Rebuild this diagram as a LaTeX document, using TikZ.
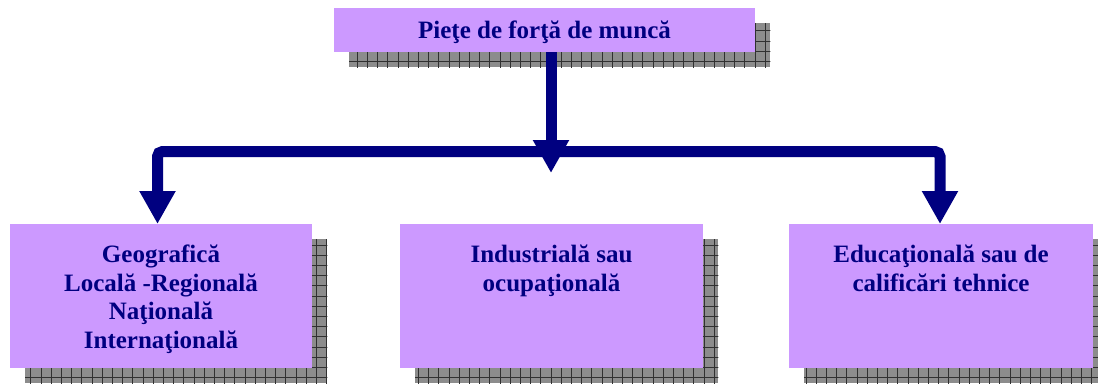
\documentclass[tikz,border=0pt]{standalone}
\usepackage{fontspec}
\setmainfont{Liberation Serif}
\usetikzlibrary{arrows.meta}
\definecolor{boxfill}{HTML}{CC99FF}
\definecolor{navyc}{HTML}{000080}
\definecolor{shadowgray}{HTML}{8C8C8C}
\definecolor{gridc}{HTML}{303030}
\tikzset{
  box/.style={fill=boxfill, draw=none, inner sep=0pt, anchor=north west},
  boxtext/.style={text=navyc, font=\bfseries\fontsize{25}{28.4}\selectfont, align=center, inner sep=0pt},
  conn/.style={draw=navyc, line width=11pt, rounded corners=5pt},
  tipstyle/.style={-{Triangle[width=34pt,length=33pt]}},
  bothtips/.style={{Triangle[width=34pt,length=33pt]}-{Triangle[width=34pt,length=33pt]}},
}
\newcommand{\shadowof}[1]{%
  \fill[shadowgray] ([shift={(15,15)}]#1.north west) rectangle ([shift={(15,15)}]#1.south east);
  \begin{scope}
    \clip ([shift={(15,15)}]#1.north west) rectangle ([shift={(15,15)}]#1.south east);
    \draw[gridc, line width=0.6pt, step=10.2pt] (0,0) grid (1098,384);
  \end{scope}}
\begin{document}
\begin{tikzpicture}[x=1pt,y=-1pt]
\useasboundingbox (0,0) rectangle (1098,384);
% boxes (named, used for shadows)
\path node[box, minimum width=421pt, minimum height=44pt] (top) at (334,8) {};
\path node[box, minimum width=302pt, minimum height=144pt] (b1) at (10,224) {};
\path node[box, minimum width=303pt, minimum height=144pt] (b2) at (400,224) {};
\path node[box, minimum width=304pt, minimum height=144pt] (b3) at (789,224) {};
% shadows
\shadowof{top}
\shadowof{b1}
\shadowof{b2}
\shadowof{b3}
% boxes on top of shadows
\node[box, minimum width=421pt, minimum height=44pt] (topf) at (334,8) {};
\node[box, minimum width=302pt, minimum height=144pt] (b1f) at (10,224) {};
\node[box, minimum width=303pt, minimum height=144pt] (b2f) at (400,224) {};
\node[box, minimum width=304pt, minimum height=144pt] (b3f) at (789,224) {};
% texts
\node[boxtext, anchor=base] (t0) at (544.5,38) {Pieţe de forţă de muncă};
\node[boxtext, anchor=north] (t1) at (161,245) {Geografică\\Locală -Regională\\Naţională\\Internaţională};
\node[boxtext, anchor=north] (t2) at (551.5,245) {Industrială sau\\ocupaţională};
\node[boxtext, anchor=north] (t3) at (941,245) {Educaţională sau de\\calificări tehnice};
% connectors
\coordinate (lt) at (157.5,224);
\coordinate (rt) at (940,224);
\coordinate (mtop) at (551,52);
\coordinate (mtip) at (551,173);
\draw[conn, bothtips] (lt) -- (157.5,151.5) -- (940,151.5) -- (rt);
\draw[conn, tipstyle] (mtop) -- (mtip);
\end{tikzpicture}
\end{document}
